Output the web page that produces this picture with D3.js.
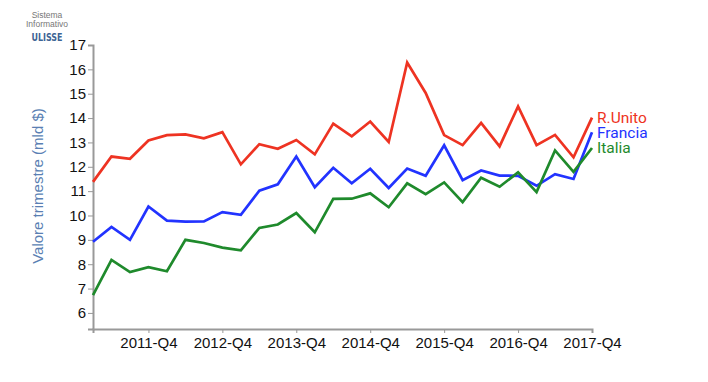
<!DOCTYPE html>
<html>
<head>
<meta charset="utf-8">
<script src="https://cdn.jsdelivr.net/npm/d3@7"></script>
<style>
  body { margin: 0; background: #fff; }
  svg { display: block; }
  .axis path, .axis line { stroke: #999; }
  .axis path { stroke-width: 2; }
  .axis text { font-family: "Liberation Sans", Arial, sans-serif; font-size: 15px; fill: #111; }
</style>
</head>
<body>
<div id="chart"></div>
<script>
// trimestri 2011-Q1 .. 2017-Q4
const years = [2011, 2012, 2013, 2014, 2015, 2016, 2017];
const quarters = years.flatMap((y) => ["Q1", "Q2", "Q3", "Q4"].map((q) => `${y}-${q}`));
const tickLabels = years.map((y) => `${y}-Q4`);
const yTicks = [6, 7, 8, 9, 10, 11, 12, 13, 14, 15, 16, 17];

const seriesNames = ["R.Unito", "Francia", "Italia"];
const seriesColors = ["#ee3322", "#2233ff", "#1f8a2c"];

const valuesUK = [11.38, 12.42, 12.33, 13.08, 13.3, 13.33, 13.17, 13.42, 12.1, 12.93, 12.74, 13.1, 12.51, 13.77,
  13.25, 13.86, 13.02, 16.28, 15.03, 13.3, 12.89, 13.8, 12.84, 14.48, 12.89, 13.31, 12.39, 14.02];
const valuesFR = [8.92, 9.53, 9.0, 10.37, 9.79, 9.75, 9.76, 10.14, 10.03, 11.02, 11.28, 12.42, 11.16, 11.96,
  11.32, 11.92, 11.13, 11.93, 11.63, 12.88, 11.45, 11.85, 11.64, 11.63, 11.22, 11.7, 11.5, 13.42];
const valuesIT = [6.73, 8.18, 7.68, 7.88, 7.71, 9.0, 8.87, 8.68, 8.57, 9.49, 9.63, 10.1, 9.31, 10.68,
  10.69, 10.91, 10.34, 11.32, 10.88, 11.36, 10.55, 11.55, 11.18, 11.77, 10.96, 12.67, 11.79, 12.77];

const series = [valuesUK, valuesFR, valuesIT].map((vals, i) => ({
  name: seriesNames[i],
  color: seriesColors[i],
  values: vals,
}));

const width = 708;
const height = 382;

const svg = d3.select("#chart").append("svg").attr("width", width).attr("height", height);

const x = d3.scalePoint().domain(quarters).range([93, 592]);
const y = d3.scaleLinear().domain([5.34, 17]).range([329, 45]);

// logo
const logo = svg.append("g").attr("font-family", "'Liberation Sans', Arial, sans-serif").attr("text-anchor", "middle");
logo.append("text").attr("x", 47).attr("y", 18).attr("font-size", 8.5).attr("fill", "#777").text("Sistema");
logo.append("text").attr("x", 47).attr("y", 27).attr("font-size", 8.5).attr("fill", "#777").text("Informativo");
logo.append("text").attr("x", 47).attr("y", 41).attr("font-size", 11).attr("font-weight", "bold")
  .attr("font-family", "'DejaVu Sans Condensed', 'Liberation Sans Narrow', sans-serif")
  .attr("textLength", 31).attr("lengthAdjust", "spacingAndGlyphs")
  .attr("fill", "#3d6494").text("ULISSE");

// assi
svg.append("g")
  .attr("class", "axis")
  .attr("transform", "translate(93,0)")
  .call(d3.axisLeft(y).tickValues(yTicks).tickSize(5).tickPadding(2).tickFormat(d3.format("d")));

svg.append("g")
  .attr("class", "axis")
  .attr("transform", "translate(0,329)")
  .call(d3.axisBottom(x).tickValues(tickLabels).tickSize(4).tickPadding(4));

svg.append("text")
  .attr("transform", "translate(43,186) rotate(-90)")
  .attr("text-anchor", "middle")
  .attr("font-family", "'Liberation Sans', Arial, sans-serif")
  .attr("font-size", 15)
  .attr("fill", "#5a7fb3")
  .text("Valore trimestre (mld $)");

// linee
const line = d3.line()
  .x((d, i) => x(quarters[i]))
  .y((d) => y(d));

svg.append("g")
  .selectAll("path")
  .data(series)
  .join("path")
  .attr("fill", "none")
  .attr("stroke", (d) => d.color)
  .attr("stroke-width", 2.7)
  .attr("d", (d) => line(d.values));

// etichette finali
svg.append("g")
  .selectAll("text")
  .data(series)
  .join("text")
  .attr("x", x(quarters[quarters.length - 1]) + 5)
  .attr("y", (d) => y(d.values[d.values.length - 1]))
  .attr("dy", "0.35em")
  .attr("font-family", "Roboto, 'Liberation Sans', sans-serif")
  .attr("font-size", 15.5)
  .attr("fill", (d) => d.color)
  .text((d) => d.name);
</script>
</body>
</html>
